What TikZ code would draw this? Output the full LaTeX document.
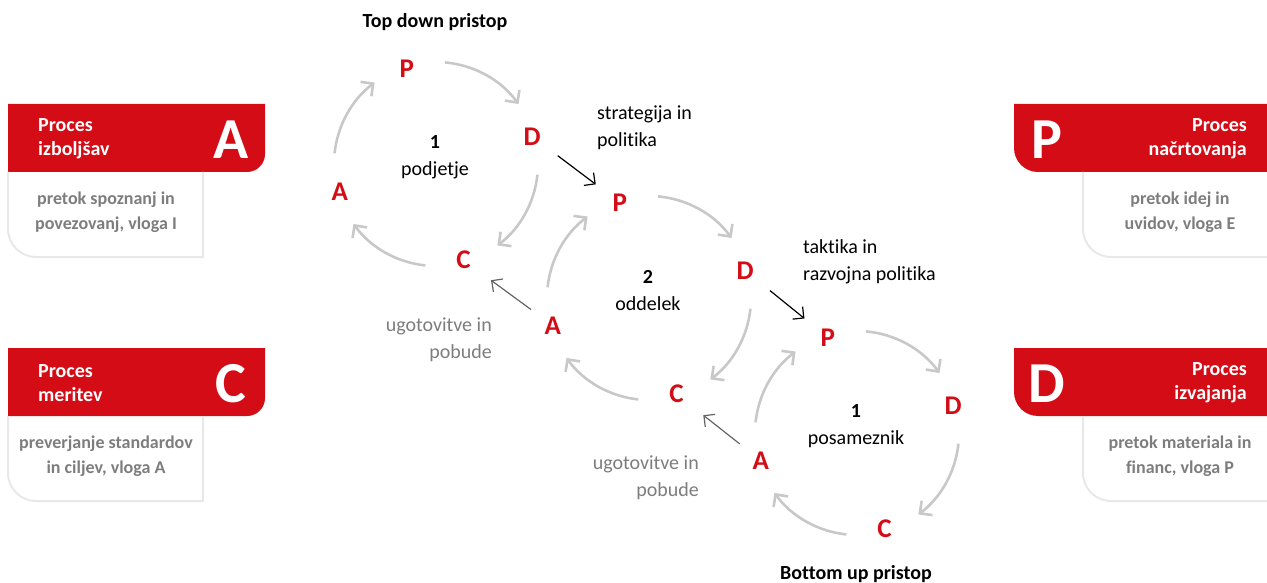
\documentclass[tikz,border=0pt]{standalone}
\usepackage{fontspec}
\setmainfont{Carlito}[Ligatures=NoCommon]
\usepackage{tikz}
\usetikzlibrary{arrows.meta,calc}

\definecolor{pdcared}{RGB}{212,12,22}
\definecolor{arcgray}{RGB}{200,200,200}
\definecolor{framegray}{RGB}{232,232,232}
\definecolor{txtgray}{RGB}{125,125,125}
\definecolor{lnkgray}{RGB}{100,100,100}

\begin{document}
\begin{tikzpicture}[x=1pt,y=1pt,
  lettr/.style={text=pdcared,font=\bfseries\fontsize{27}{27}\selectfont},
  cyc/.style={arcgray,line width=2.6pt,-{Straight Barb[length=9pt,width=18pt]}},
  lnk/.style={line width=1.2pt,-{Straight Barb[length=8pt,width=16pt]}},
  body/.style={inner sep=0pt,font=\fontsize{20}{27}\selectfont},
  title/.style={inner sep=0pt,font=\bfseries\fontsize{20}{24}\selectfont},
  band/.style={fill=pdcared},
  frame/.style={draw=framegray,line width=2pt},
  boxhead/.style={inner sep=0pt,text=white,font=\bfseries\fontsize{20}{24}\selectfont},
  boxltr/.style={inner sep=0pt,text=white,font=\bfseries\fontsize{58}{58}\selectfont},
  boxtxt/.style={inner sep=0pt,text=txtgray,align=center,font=\bfseries\fontsize{18}{25}\selectfont}]
\useasboundingbox (0,0) rectangle (1267,-583);
% PDCA cycles
\foreach \n/\cx/\cy/\num/\nm in {1/436/164/1/podjetje,2/649/298/2/oddelek,3/857/433/1/posameznik}{
  \coordinate (o\n) at (\cx,-\cy);
  \node[lettr] (p\n) at ($(o\n)+(107:100)$) {P};
  \node[lettr] (d\n) at ($(o\n)+(16:100)$) {D};
  \node[lettr] (c\n) at ($(o\n)+(-74:100)$) {C};
  \node[lettr] (a\n) at ($(o\n)+(196:100)$) {A};
  \node[body,align=center] (lbl\n) at ($(o\n)+(-1,7)$) {\textbf{\num}\\\nm};
  \foreach \s/\e in {85/36,-6/-53,-96/-144,174/127}
    \draw[cyc] ($(o\n)+(\s:102)$) arc[start angle=\s,end angle=\e,radius=102];
}
\node[title] (top) at (435,-22) {Top down pristop};
\node[title] (bottom) at (856,-574) {Bottom up pristop};
\node[body,align=left,anchor=west] (strat) at (597,-128) {strategija in\\politika};
\node[body,align=left,anchor=west] (takt) at (803,-262) {taktika in\\razvojna politika};
\node[body,text=txtgray,align=right,anchor=east] (ugot1) at (492,-340) {ugotovitve in\\pobude};
\node[body,text=txtgray,align=right,anchor=east] (ugot2) at (699,-478) {ugotovitve in\\pobude};
\draw[lnk,shorten <=32pt,shorten >=30pt] (d1.center) -- (p2.center);
\draw[lnk,shorten <=32pt,shorten >=30pt] (d2.center) -- (p3.center);
\draw[lnk,lnkgray,shorten <=27pt,shorten >=34pt] (a2.center) -- (c1.center);
\draw[lnk,lnkgray,shorten <=27pt,shorten >=34pt] (a3.center) -- (c2.center);
% process boxes
\foreach \y/\ltr/\hd/\txt in {104/A/izboljšav/{pretok spoznanj in\\povezovanj, vloga I},348/C/meritev/{preverjanje standardov\\in ciljev, vloga A}}{
  \fill[band] (8,-\y) -- (265,-\y) -- (265,-\y-50) arc[start angle=0,end angle=-90,radius=18] -- (8,-\y-68) -- cycle;
  \draw[frame] (8,-\y-68) -- (8,-\y-125) arc[start angle=180,end angle=270,radius=28] -- (203,-\y-153) -- (203,-\y-68);
  \node[boxhead,align=left,anchor=west] (hd\ltr) at (38,-\y-35) {Proces\\\hd};
  \node[boxltr] (ltr\ltr) at (231,-\y-36) {\ltr};
  \node[boxtxt] (txt\ltr) at (106,-\y-108) {\txt};
}
\foreach \y/\ltr/\hd/\txt in {104/P/načrtovanja/{pretok idej in\\uvidov, vloga E},348/D/izvajanja/{pretok materiala in\\financ, vloga P}}{
  \fill[band] (1268,-\y) -- (1014,-\y) -- (1014,-\y-44) arc[start angle=180,end angle=270,radius=24] -- (1268,-\y-68) -- cycle;
  \draw[frame] (1083,-\y-68) -- (1083,-\y-125) arc[start angle=180,end angle=270,radius=28] -- (1268,-\y-153);
  \node[boxhead,align=right,anchor=east] (hd\ltr) at (1247,-\y-35) {Proces\\\hd};
  \node[boxltr] (ltr\ltr) at (1047,-\y-36) {\ltr};
  \node[boxtxt] (txt\ltr) at (1180,-\y-108) {\txt};
}
\end{tikzpicture}
\end{document}
